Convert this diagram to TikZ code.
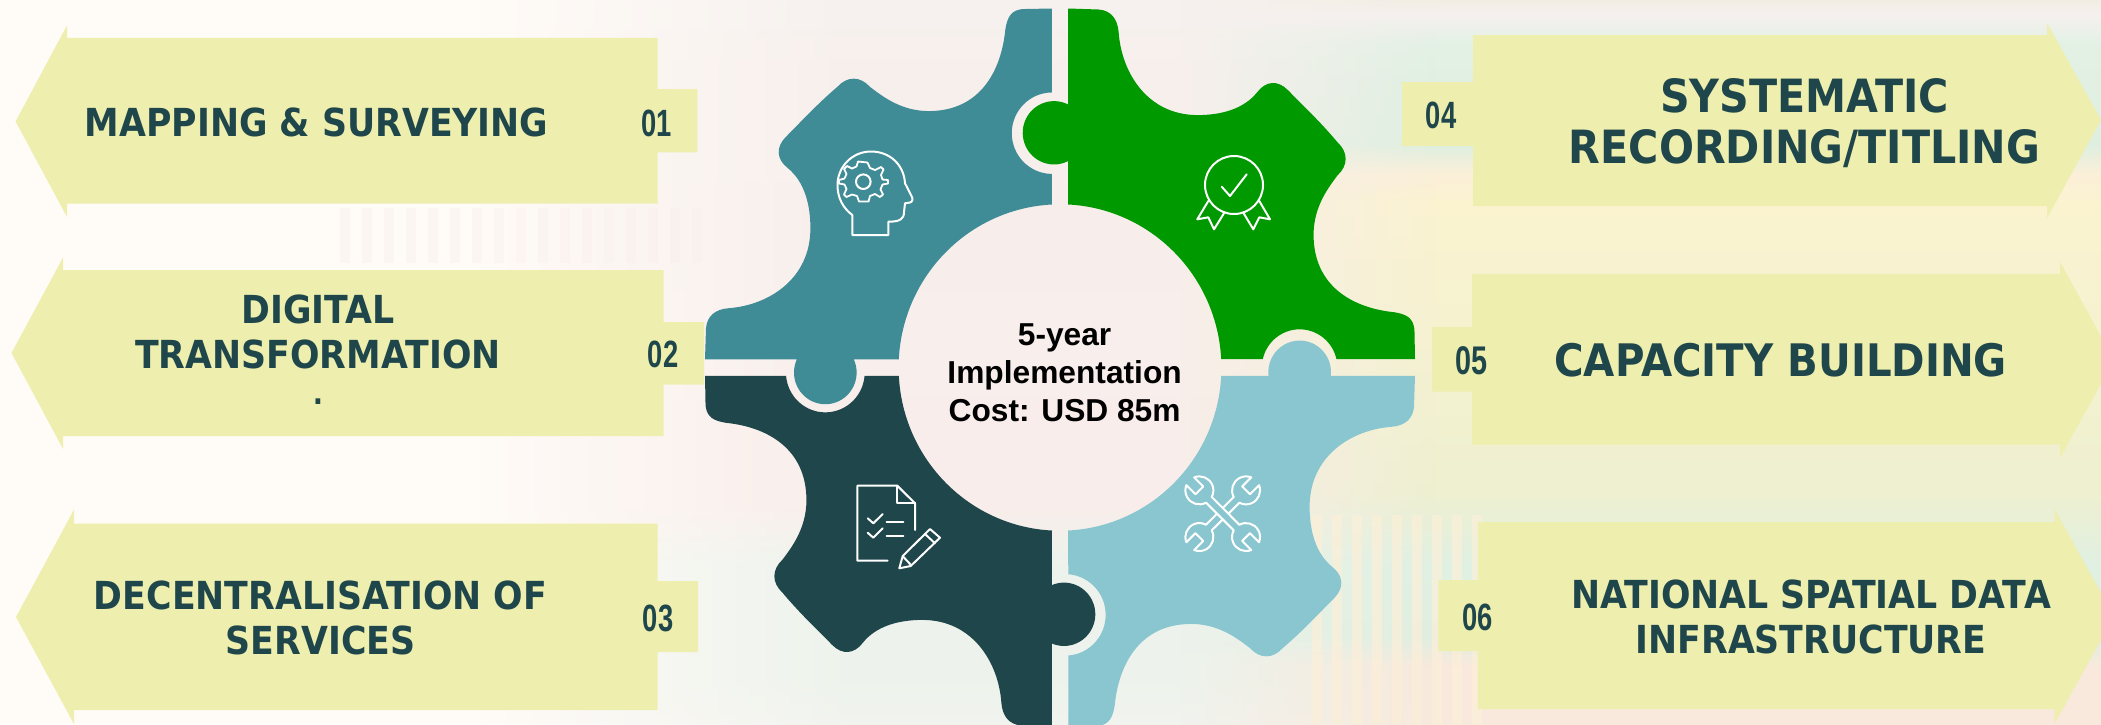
\documentclass[tikz,border=0pt]{standalone}
\usepackage{fontspec}
\usetikzlibrary{fadings}
\setmainfont{Liberation Sans}
\newfontfamily\bannerfont[FakeStretch=0.9]{DejaVu Sans}
\newfontfamily\numfont[FakeStretch=0.72]{Liberation Sans}
\definecolor{bgbase}{HTML}{FFFBF7}
\definecolor{bannerc}{HTML}{EEEEAE}
\definecolor{inkc}{HTML}{1F474B}
\definecolor{tealc}{HTML}{3F8C96}
\definecolor{greenc}{HTML}{009900}
\definecolor{darkc}{HTML}{1F474B}
\definecolor{lightc}{HTML}{8AC6CF}
\definecolor{ca}{HTML}{FBF0E8}\definecolor{cb}{HTML}{FAF2EC}\definecolor{cc}{HTML}{F6F4F0}
\definecolor{cd}{HTML}{EDF3EC}\definecolor{ce}{HTML}{F8EDEA}\definecolor{cf}{HTML}{F7EFEC}
\definecolor{cg}{HTML}{F5F4F1}\definecolor{ch}{HTML}{F6F6F0}\definecolor{ci}{HTML}{EDF6EC}
\definecolor{cj}{HTML}{E8F5EA}
\definecolor{ra}{HTML}{F9E6DA}\definecolor{rb}{HTML}{F8E9DC}\definecolor{rc}{HTML}{E0EEDF}
\definecolor{rd}{HTML}{E0F0E2}\definecolor{re}{HTML}{EEF0D0}\definecolor{rf}{HTML}{FBF3D0}
\definecolor{rg}{HTML}{FBEFD8}\definecolor{rh}{HTML}{DEEFE0}\definecolor{ri}{HTML}{E3F1E5}
\definecolor{rj}{HTML}{F5F0EE}\definecolor{rk}{HTML}{F0ECD8}\definecolor{rl}{HTML}{E8E2E2}
\definecolor{rm}{HTML}{EDE6DA}\definecolor{rn}{HTML}{DFEFE6}\definecolor{ro}{HTML}{E9F3E3}
\definecolor{rp}{HTML}{FDF3D8}\definecolor{rq}{HTML}{FBEBD8}
\pgfdeclareverticalshading{centreback}{100bp}{
 color(0bp)=(ca);
 color(17bp)=(cb);
 color(22bp)=(cc);
 color(28bp)=(cd);
 color(36bp)=(cd);
 color(40bp)=(ce);
 color(70bp)=(cf);
 color(80bp)=(cg);
 color(90bp)=(ch);
 color(96bp)=(ci);
 color(100bp)=(cj)}
\pgfdeclareverticalshading{rightback}{100bp}{
 color(0bp)=(ra);
 color(29bp)=(rb);
 color(31bp)=(rc);
 color(36bp)=(rd);
 color(41bp)=(re);
 color(61bp)=(rf);
 color(63bp)=(rg);
 color(65bp)=(rh);
 color(72bp)=(ri);
 color(74bp)=(rj);
 color(76bp)=(rk);
 color(82bp)=(rl);
 color(88bp)=(rm);
 color(90bp)=(rn);
 color(96bp)=(ro);
 color(98bp)=(rp);
 color(100bp)=(rq)}
\tikzset{
 banner/.style={fill=bannerc},
 bannertext/.style={text=inkc,align=center,font=\bannerfont\bfseries\fontsize{38.6}{44.5}\selectfont},
 bigtext/.style={text=inkc,align=center,font=\bannerfont\bfseries\fontsize{45.8}{51}\selectfont},
 numtext/.style={text=inkc,font=\numfont\bfseries\fontsize{38}{38}\selectfont},
 icon/.style={draw=white,line width=2pt,line join=round,line cap=round},
}
\newcommand{\gearpiece}[8]{%
 \pgfmathsetmacro\gTh{sqrt((#5)*(#5)-(8.2-(#4))*(8.2-(#4)))}%
 \pgfmathsetmacro\gTa{atan2(8.2-(#4),\gTh)}%
 \pgfmathsetmacro\gSd{-8.3-(#6)}%
 \pgfmathsetmacro\gSh{sqrt((#8)*(#8)-\gSd*\gSd)}%
 \pgfmathsetmacro\gSa{atan2(-\gSh,\gSd)+360}%
 \pgfmathsetmacro\gSb{atan2(\gSh,\gSd)}%
 \pgfmathsetmacro\gTs{180-\gTa}%
 \pgfmathsetmacro\gTe{360+\gTa}%
 \pgfmathsetmacro\gTl{(#3)-\gTh}%
 \pgfmathsetmacro\gSl{(#7)-\gSh}%
 \fill[#2,rotate=#1] (-8.3,357) -- (-35,356.5) .. controls (-50,356.5) and (-53,347.5) .. (-55,336)
  .. controls (-59,295.5) and (-80,255) .. (-132,255)
  .. controls (-160,255) and (-179,270) .. (-191,279)
  .. controls (-201,290) and (-214,290) .. (-224,279)
  .. controls (-243,263) and (-260,245) .. (-276,229)
  .. controls (-286,219) and (-285,207) .. (-274,198.5)
  .. controls (-257,185) and (-251,162) .. (-251,138.5)
  .. controls (-251,88) and (-293,62) .. (-333,59)
  .. controls (-347,58) and (-355,51) .. (-356,39)
  -- (-357,8.2) -- (\gTl,8.2) arc[start angle=\gTs,end angle=\gTe,radius=#5 pt]
  -- (-162.1,8.2) arc[start angle=177.1,end angle=92.9,radius=162.3pt]
  -- (-8.3,\gSl) arc[start angle=\gSa,end angle=\gSb,radius=#8 pt] -- cycle;
}
\begin{document}
\begin{tikzpicture}[x=1pt,y=-1pt]
\useasboundingbox (0,0) rectangle (2101,724);
\clip (0,0) rectangle (2101,724);
\fill[bgbase] (0,0) rectangle (2101,724);
% faded backdrop
\shade[shading=centreback,path fading=west] (480,0) rectangle (860,724);
\shade[shading=centreback] (855,0) rectangle (1440,724);
\shade[shading=rightback,path fading=west] (1180,0) rectangle (1440,724);
\shade[shading=rightback] (1435,0) rectangle (2101,724);
\foreach \sx in {340,362,...,700}{\fill[ce,opacity=0.3] (\sx,208) rectangle ++(10,55);}
\foreach \sx in {1312,1332,...,1480}{\fill[rg,opacity=0.7] (\sx,515) rectangle ++(10,209);}
% left banners
\fill[banner] (15.6,121.4) -- (67,25.4) -- (67,37.9) -- (657.5,37.9) -- (657.5,89) -- (697.4,89) -- (697.4,152.4) -- (657.5,152.4) -- (657.5,203.6) -- (67,203.6) -- (67,217) -- cycle;
\fill[banner] (11.5,353) -- (63,257.6) -- (63,270) -- (663.5,270) -- (663.5,322) -- (704,322) -- (704,384.6) -- (663.5,384.6) -- (663.5,436) -- (63,436) -- (63,448.8) -- cycle;
\fill[banner] (16,617) -- (74,509.7) -- (74,523.5) -- (657.5,523.5) -- (657.5,581) -- (698,581) -- (698,652) -- (657.5,652) -- (657.5,710) -- (74,710) -- (74,724) -- cycle;
% right banners
\fill[banner] (2101,120) -- (2047,23) -- (2047,35) -- (1473,35) -- (1473,82) -- (1402,82) -- (1402,146) -- (1473,146) -- (1473,206) -- (2047,206) -- (2047,218) -- cycle;
\fill[banner] (2114,360) -- (2060,262) -- (2060,273.8) -- (1472,273.8) -- (1472,327) -- (1432,327) -- (1432,391.5) -- (1472,391.5) -- (1472,444.6) -- (2060,444.6) -- (2060,458) -- cycle;
\fill[banner] (2114,616) -- (2054.5,509) -- (2054.5,522) -- (1477.8,522) -- (1477.8,580) -- (1438.4,580) -- (1438.4,651) -- (1477.8,651) -- (1477.8,709) -- (2054.5,709) -- (2054.5,724) -- cycle;
% banner texts
\node[bannertext] (t1) at (316.7,122) {MAPPING \& SURVEYING};
\node[bannertext] (t2) at (318,332) {DIGITAL\\TRANSFORMATION};
\node[bannertext,font=\bannerfont\bfseries\fontsize{30}{30}\selectfont] (t2b) at (318,402) {.};
\node[bannertext] (t3) at (320.5,618) {DECENTRALISATION OF\\SERVICES};
\node[bigtext] (t4) at (1804.6,123.5) {SYSTEMATIC\\RECORDING/TITLING};
\node[bigtext,font=\bannerfont\bfseries\fontsize{44.8}{50}\selectfont] (t5) at (1780.7,360) {CAPACITY BUILDING};
\node[bannertext] (t6) at (1811,617) {NATIONAL SPATIAL DATA\\INFRASTRUCTURE};
% numbers
\node[numtext] (n1) at (656.5,123) {01};
\node[numtext] (n2) at (663,354.6) {02};
\node[numtext] (n3) at (658,618.7) {03};
\node[numtext] (n4) at (1441,115.4) {04};
\node[numtext,font=\numfont\bfseries\fontsize{40}{40}\selectfont] (n5) at (1471.5,360.6) {05};
\node[numtext] (n6) at (1477.3,617.7) {06};
% gear
\begin{scope}[shift={(1060,367.5)},x=1pt,y=1pt,xscale=0.9944,yscale=1.0056]
\gearpiece{0}{tealc}{-236}{-5}{31.5}{-8}{233}{40.5}
\gearpiece{-90}{greenc}{-233.4}{-6}{31.5}{0}{241}{38}
\gearpiece{-180}{lightc}{-241}{4.7}{31.5}{-5.4}{246}{40.5}
\gearpiece{-270}{darkc}{-245.4}{-4}{31.5}{-5}{236}{39.6}
\end{scope}
\node[align=center,font=\bfseries\fontsize{31.7}{38.2}\selectfont,text=black] (centre) at (1064.6,373) {5-year\\Implementation\\Cost: USD 85m};
% head icon
\draw[icon] (852.3,235) -- (888.3,235) -- (888.3,221.7) .. controls (900,221.7) and (904,219) .. (904,212) -- (905,203.3) -- (910,202.5) .. controls (913,201.5) and (913,199) .. (911.5,196) -- (905,183.3) .. controls (904,165) and (890,151.5) .. (871,151.5) .. controls (852,151.5) and (837.5,167) .. (837.5,185) .. controls (837.5,198) and (843,208) .. (852.3,215) -- cycle;
\draw[icon] (863.3,181.7) circle[radius=7.3pt];
\draw[icon,line width=1.8pt] (867.5,162.5) -- (870,168) -- (875,170) -- (881,167) -- (883.5,169.5) -- (881,175) -- (882.5,179.5) -- (888,180) -- (888,183.5) -- (882.5,184.5) -- (880.5,189.5) -- (883,194.5) -- (880,197) -- (875,194) -- (870,196) -- (868.5,201.5) -- (859,201.5) -- (857,196) -- (852,194.5) -- (846.5,197) -- (844,194.5) -- (846.5,189) -- (844.5,184.5) -- (839,183.5) -- (839,180) -- (844.5,178.5) -- (846.5,174) -- (844,169) -- (847,166) -- (852,168.5) -- (856.5,166.5) -- (858,161.5) -- cycle;
% badge icon
\draw[icon] (1234,185) circle[radius=29pt];
\draw[icon] (1221.7,186.7) -- (1230,196) -- (1246.7,174.3);
\draw[icon] (1208.3,201) -- (1197.3,219.3) -- (1208.3,217.3) -- (1214,229.3) -- (1224.3,212.7);
\draw[icon] (1259.3,201) -- (1270,219.3) -- (1259.3,217.3) -- (1253.3,229.3) -- (1243.3,212.7);
% document icon
\draw[icon] (915,530) -- (915,503.3) -- (897.3,485.7) -- (857.3,485.7) -- (857.3,560.7) -- (887.7,560.7);
\draw[icon] (897.3,485.7) -- (897.3,503.3) -- (915,503.3);
\draw[icon] (867.7,518.3) -- (873.3,523.3) -- (882.7,514);
\draw[icon] (867.7,532.7) -- (873.3,537.7) -- (882.7,528.3);
\draw[icon] (886.7,521.7) -- (903.3,521.7);
\draw[icon] (886.7,536) -- (903.3,536);
\draw[icon] (930,529) -- (940,537.7) -- (910.7,566) -- (899.3,568.3) -- (902.7,556) -- cycle;
\draw[icon] (925,534) -- (935,543.3);
\draw[icon] (903,556.5) -- (911,565);
% wrench icon
\begin{scope}[shift={(1222.7,513.7)},x=1pt,y=1pt]
\foreach \wr in {45,-45}{
\filldraw[icon,fill=lightc,rotate=\wr] (19.6,4) arc[start angle=163.4,end angle=23.1,radius=14pt] -- (33,5.5) -- (33,-5.5) -- (45.87,-5.5) arc[start angle=-23.1,end angle=-163.4,radius=14pt] -- (-19.6,-4) arc[start angle=-16.6,end angle=-156.9,radius=14pt] -- (-33,-5.5) -- (-33,5.5) -- (-45.87,5.5) arc[start angle=156.9,end angle=16.6,radius=14pt] -- cycle;
}
\end{scope}
\end{tikzpicture}
\end{document}
